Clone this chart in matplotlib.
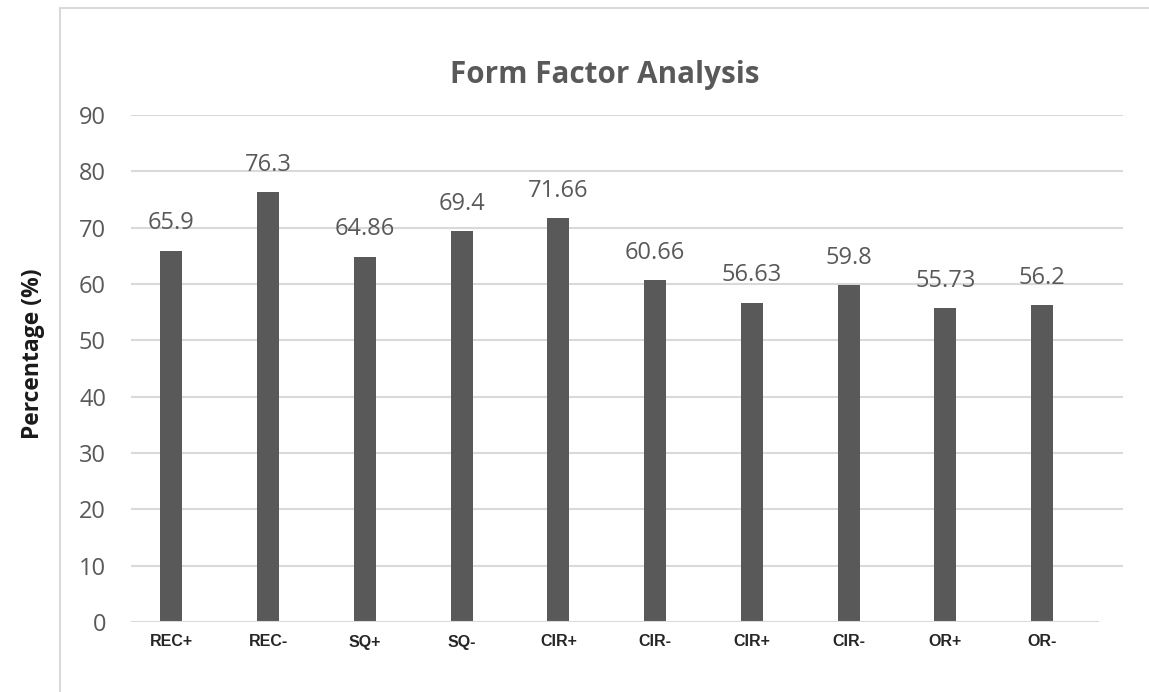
import matplotlib
matplotlib.use("Agg")
import matplotlib.pyplot as plt
from matplotlib.lines import Line2D

categories = ["REC+", "REC-", "SQ+", "SQ-", "CIR+", "CIR-", "CIR+", "CIR-", "OR+", "OR-"]
values = [65.9, 76.3, 64.86, 69.4, 71.66, 60.66, 56.63, 59.8, 55.73, 56.2]
value_labels = ["65.9", "76.3", "64.86", "69.4", "71.66", "60.66", "56.63", "59.8", "55.73", "56.2"]
yticks = [0, 10, 20, 30, 40, 50, 60, 70, 80, 90]

W, H = 1149, 692
fig = plt.figure(figsize=(W / 100, H / 100), dpi=100)
fig.patch.set_facecolor("white")

# axes placement (pixels)
left_px, right_px = 131, 1123
bottom_px, top_px = 622, 115
ax = fig.add_axes([left_px / W, 1 - bottom_px / H, (right_px - left_px) / W, (bottom_px - top_px) / H])

grey = "#595959"
grid = "#d9d9d9"

x = list(range(len(categories)))
ax.bar(x, values, width=0.227, color=grey, zorder=3)

ax.set_ylim(0, 90)
ax.set_xlim(-0.4175, 9.835)
ax.set_yticks(yticks)
ax.set_yticklabels([str(t) for t in yticks], fontsize=17, color=grey, family="Open Sans")
ax.set_xticks(x)
ax.set_xticklabels(categories, fontsize=11.5, fontweight="bold", color="#262626", family="Liberation Sans")
ax.tick_params(axis="y", length=0, pad=18)
ax.tick_params(axis="x", length=0, pad=9)

for t in yticks[1:]:
    ax.axhline(t, color=grid, lw=1.5, zorder=1)
ax.axhline(0, xmin=0, xmax=(9.576 + 0.4175) / (9.835 + 0.4175), color=grid, lw=1.5, zorder=4)

for s in ax.spines.values():
    s.set_visible(False)

for xi, v, lab in zip(x, values, value_labels):
    ax.annotate(lab, (xi, v), xytext=(0, 15.5), textcoords="offset points",
                ha="center", va="baseline", fontsize=17, color=grey, family="Open Sans",
                clip_on=False)

fig.text(605 / W, 1 - 83.5 / H, "Form Factor Analysis", ha="center", va="baseline",
         fontsize=21.3, fontweight="bold", color=grey, family="Open Sans")

fig.text(33 / W, 1 - 354 / H, "Percentage (%)", ha="center", va="center", rotation=90,
         fontsize=16.5, fontweight="bold", color="#1a1a1a", family="Open Sans")

# outer frame (left and top edges visible)
fig.add_artist(Line2D([59.5 / W, 59.5 / W], [0, 1 - 7.5 / H], transform=fig.transFigure,
                      color=grid, lw=1.5))
fig.add_artist(Line2D([59.5 / W, 1], [1 - 7.5 / H, 1 - 7.5 / H], transform=fig.transFigure,
                      color=grid, lw=1.5))

fig.savefig("out.png", dpi=100)
